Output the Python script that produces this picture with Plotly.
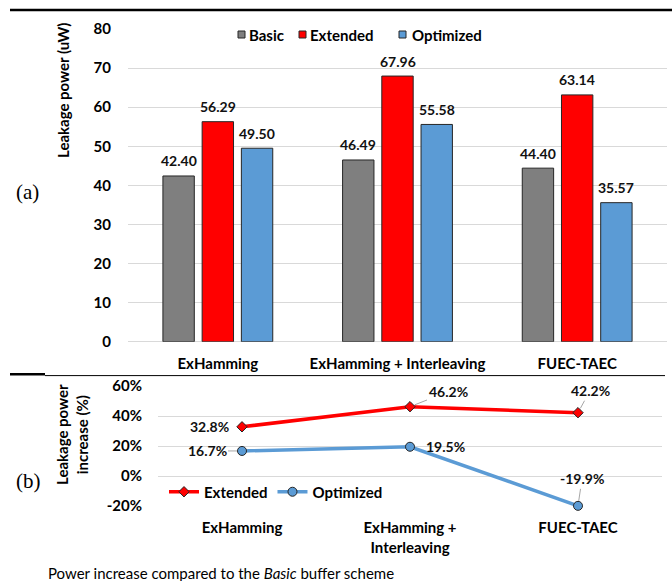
import plotly.graph_objects as go

# ---- data ----
schemes = ["ExHamming", "ExHamming + Interleaving", "FUEC-TAEC"]
schemes_wrapped = ["ExHamming", "ExHamming +<br>Interleaving", "FUEC-TAEC"]

basic_uw = [42.40, 46.49, 44.40]
extended_uw = [56.29, 67.96, 63.14]
optimized_uw = [49.50, 55.58, 35.57]

extended_pct = [32.8, 46.2, 42.2]
optimized_pct = [16.7, 19.5, -19.9]

y_ticks_power = [0, 10, 20, 30, 40, 50, 60, 70, 80]
y_ticks_pct = [-20, 0, 20, 40, 60]
y_ticks_pct_text = ["-20%", "0%", "20%", "40%", "60%"]

# ---- style ----
W, H = 672, 581
GREY = "#7f7f7f"
RED = "#ff0000"
BLUE = "#5b9bd5"
EDGE = "#262626"
GRID = "#d9d9d9"
FONT = "Lato"
BOLD = dict(family=FONT, size=15, color="#000000", weight="bold")
LABEL = dict(family=FONT, size=14, color="#111111", weight="bold")

BARGAP = 0.345
BARGROUPGAP = 0.2
TOP_X0, TOP_X1 = 128, 667


def px(x):
    return x / W


def py(y):
    return 1 - y / H


fig = go.Figure()
annotations = []

# ---- (a) leakage power bars ----
bar_series = [("Basic", basic_uw, GREY),
              ("Extended", extended_uw, RED),
              ("Optimized", optimized_uw, BLUE)]
cat_px = (TOP_X1 - TOP_X0) / len(schemes)
slot_px = cat_px * (1 - BARGAP) / len(bar_series)
for k, (name, vals, col) in enumerate(bar_series):
    fig.add_trace(go.Bar(
        x=schemes, y=vals, name=name,
        marker=dict(color=col, line=dict(color=EDGE, width=1)),
        showlegend=False, xaxis="x", yaxis="y",
    ))
    # value labels sit a little above each bar
    for cat, v in zip(schemes, vals):
        annotations.append(dict(
            x=cat, y=v, xref="x", yref="y", text=f"{v:.2f}", font=LABEL,
            showarrow=False, xanchor="center", yanchor="middle",
            xshift=(k - 1) * slot_px, yshift=15,
        ))

# ---- (b) relative increase lines ----
fig.add_trace(go.Scatter(
    x=schemes_wrapped, y=extended_pct, name="Extended", mode="lines+markers",
    line=dict(color=RED, width=3.5),
    marker=dict(symbol="diamond", size=8, color=RED, line=dict(color=EDGE, width=1)),
    xaxis="x2", yaxis="y2", legend="legend2", cliponaxis=False,
))
fig.add_trace(go.Scatter(
    x=schemes_wrapped, y=optimized_pct, name="Optimized", mode="lines+markers",
    line=dict(color=BLUE, width=3.5),
    marker=dict(symbol="circle", size=9, color=BLUE, line=dict(color=EDGE, width=1)),
    xaxis="x2", yaxis="y2", legend="legend2", cliponaxis=False,
))

# point labels for the line chart: (series values, index, offsets)
LEADER = "#a6a6a6"
label_specs = [
    (extended_pct, 0, dict(showarrow=False, xanchor="right", xshift=-11)),
    (optimized_pct, 0, dict(showarrow=True, ax=-35, ay=0)),
    (extended_pct, 1, dict(showarrow=True, ax=38, ay=-15)),
    (optimized_pct, 1, dict(showarrow=False, xanchor="left", xshift=14)),
    (extended_pct, 2, dict(showarrow=True, ax=12, ay=-22)),
    (optimized_pct, 2, dict(showarrow=True, ax=4, ay=-27)),
]
for vals, i, opts in label_specs:
    ann = dict(x=schemes_wrapped[i], y=vals[i], xref="x2", yref="y2",
               text=f"{vals[i]:.1f}%", font=LABEL, yanchor="middle")
    if opts.get("showarrow"):
        ann.update(arrowhead=0, arrowwidth=1, arrowcolor=LEADER, standoff=5)
    ann.update(opts)
    annotations.append(ann)


def paper_text(x, y, text, font, **kw):
    d = dict(x=px(x), y=py(y), xref="paper", yref="paper", text=text, font=font,
             showarrow=False, xanchor="center", yanchor="middle")
    d.update(kw)
    return d


SERIF = dict(family="Liberation Serif", size=21, color="#000000")

# axis titles, panel tags and footnote
annotations += [
    paper_text(63, 91, "Leakage power (uW)", BOLD, textangle=-90),
    paper_text(72, 435, "Leakage power<br>increase (%)", BOLD, textangle=-90),
    paper_text(27, 192, "(a)", SERIF),
    paper_text(28, 481, "(b)", SERIF),
    paper_text(46, 573, "Power increase compared to the <i>Basic</i> buffer scheme",
               dict(family=FONT, size=15, color="#000000"), xanchor="left"),
]

# legend for the bar panel
shapes = []
legend_items = [("Basic", GREY, 238, 247), ("Extended", RED, 299, 308), ("Optimized", BLUE, 399, 410)]
for label, col, bx, tx in legend_items:
    shapes.append(dict(type="rect", xref="paper", yref="paper",
                       x0=px(bx), x1=px(bx + 7), y0=py(38), y1=py(31),
                       fillcolor=col, line=dict(color=EDGE, width=1)))
    annotations.append(paper_text(tx, 34.5, label, BOLD, xanchor="left"))

# frame rules
shapes += [
    dict(type="line", xref="paper", yref="paper", x0=px(10), x1=1, y0=py(10), y1=py(10),
         line=dict(color="#000000", width=2.5)),
    dict(type="line", xref="paper", yref="paper", x0=px(10), x1=px(45), y0=py(374.3), y1=py(374.3),
         line=dict(color="#000000", width=2.5)),
    dict(type="line", xref="paper", yref="paper", x0=px(45), x1=px(665), y0=py(375.6), y1=py(375.6),
         line=dict(color="#000000", width=1)),
]

common_x = dict(range=[-0.5, 2.5], tickfont=BOLD, ticks="outside", ticklen=8,
                tickcolor="rgba(0,0,0,0)", showline=False, showgrid=False, automargin=False)
common_y = dict(tickfont=BOLD, ticks="outside", tickcolor="rgba(0,0,0,0)",
                gridcolor=GRID, gridwidth=1, zeroline=True, zerolinecolor=GRID,
                zerolinewidth=1, showline=False, automargin=False)

fig.update_layout(
    width=W, height=H,
    margin=dict(l=0, r=0, t=0, b=0, autoexpand=False),
    paper_bgcolor="#ffffff", plot_bgcolor="#ffffff",
    barmode="group", bargap=BARGAP, bargroupgap=BARGROUPGAP,
    font=dict(family=FONT, color="#000000"),
    annotations=annotations, shapes=shapes,
    xaxis=dict(domain=[px(TOP_X0), px(TOP_X1)], anchor="y", **common_x),
    yaxis=dict(domain=[py(341.7), py(29)], anchor="x", range=[0, 80],
               tickvals=y_ticks_power, ticklen=13, **common_y),
    xaxis2=dict(domain=[px(158), px(662)], anchor="y2", **common_x),
    yaxis2=dict(domain=[py(506), py(386)], anchor="x2", range=[-20, 60],
                tickvals=y_ticks_pct, ticktext=y_ticks_pct_text, ticklen=12, **common_y),
    legend2=dict(orientation="h", x=px(164), y=py(492), xanchor="left", yanchor="middle",
                 bgcolor="rgba(0,0,0,0)", font=BOLD, itemwidth=30),
)

fig.write_html("out.html")
